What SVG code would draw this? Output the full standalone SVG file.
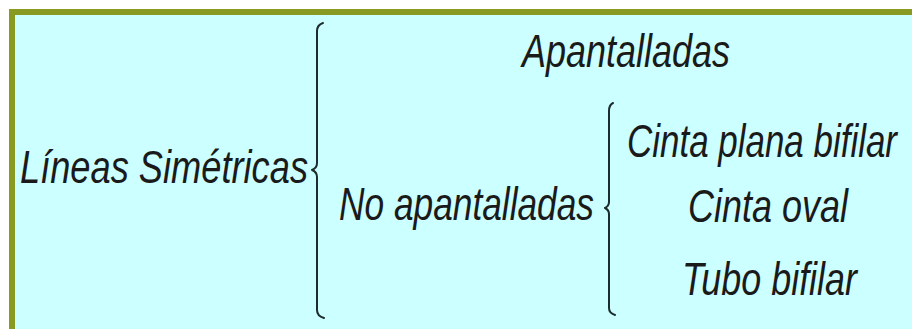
<svg xmlns="http://www.w3.org/2000/svg" width="912" height="329" viewBox="0 0 912 329">
<style>
.t{font-family:"Liberation Sans",Arial,sans-serif;font-style:italic;font-size:47px;fill:#1a1a1a;}
.br{fill:none;stroke:#1c2b2b;stroke-width:2;stroke-linecap:round;stroke-linejoin:round;}
</style>
<rect x="0" y="0" width="912" height="329" fill="#ffffff"/>
<rect x="12" y="12" width="920" height="340" fill="#ccffff" stroke="#889a22" stroke-width="6"/>
<g id="lineas-simetricas"><text class="t" x="20" y="183" textLength="288" lengthAdjust="spacingAndGlyphs">Líneas Simétricas</text></g>
<g id="apantalladas"><text class="t" x="522" y="67" textLength="208" lengthAdjust="spacingAndGlyphs">Apantalladas</text></g>
<g id="no-apantalladas"><text class="t" x="339" y="220" textLength="255" lengthAdjust="spacingAndGlyphs">No apantalladas</text></g>
<g id="cinta-plana"><text class="t" x="627" y="157" textLength="270" lengthAdjust="spacingAndGlyphs">Cinta plana bifilar</text></g>
<g id="cinta-oval"><text class="t" x="688" y="222" textLength="160" lengthAdjust="spacingAndGlyphs">Cinta oval</text></g>
<g id="tubo-bifilar"><text class="t" x="682" y="295" textLength="175" lengthAdjust="spacingAndGlyphs">Tubo bifilar</text></g>
<g id="connectors">
<path class="br" d="M323,23 Q317,25 317,31 L317,163 Q317,168 312,170 Q317,172 317,177 L317,310 Q317,316 324,318"/>
<path class="br" d="M613,103 Q609,105 609,111 L609,202 Q609,206 605,208 Q609,210 609,214 L609,308 Q609,313 615,315"/>
</g>
</svg>
